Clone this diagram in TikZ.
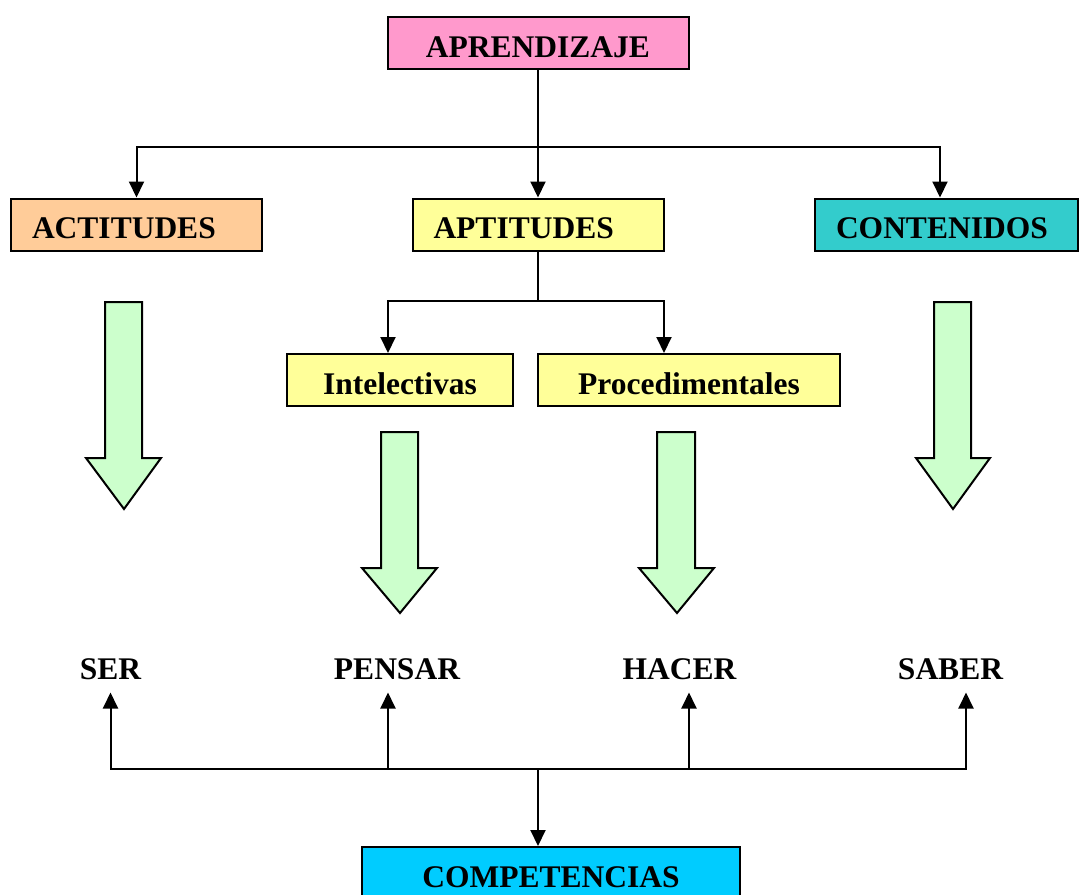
\documentclass[tikz,border=0pt]{standalone}
\usepackage{fontspec}
\setmainfont{Liberation Serif}
\usetikzlibrary{arrows.meta,calc}
\definecolor{cpink}{HTML}{FF99CC}
\definecolor{corange}{HTML}{FFCC99}
\definecolor{cyellow}{HTML}{FFFF99}
\definecolor{cteal}{HTML}{33CCCC}
\definecolor{ccyan}{HTML}{00CCFF}
\definecolor{cgreen}{HTML}{CCFFCC}
\tikzset{
  box/.style={draw=black, line width=2pt, minimum height=52pt, inner ysep=0pt,
    text height=28pt, text depth=0pt,
    font=\fontsize{31.5}{36}\selectfont\bfseries},
  lbox/.style={box, inner xsep=21pt, align=left},
  lab/.style={anchor=base, inner sep=0pt, font=\fontsize{31.5}{36}\selectfont\bfseries},
  arr/.style={line width=2pt, -{Triangle[width=15pt,length=16pt]}},
  line/.style={line width=2pt},
  bigarrow/.style={draw=black, line width=2pt, fill=cgreen, line join=miter}
}
\begin{document}
\begin{tikzpicture}[x=1pt,y=-1pt]
\useasboundingbox (0,0) rectangle (1080,895);
% boxes
\node[box, fill=cpink, minimum width=301pt] (apr) at (538,43) {APRENDIZAJE};
\node[lbox, fill=corange, text width=209pt] (act) at (136.5,224.5) {ACTITUDES};
\node[lbox, fill=cyellow, text width=209pt] (apt) at (538,224.5) {APTITUDES};
\node[lbox, fill=cteal, text width=221pt] (cont) at (946.5,224.5) {CONTENIDOS};
\node[box, fill=cyellow, minimum width=226pt] (int) at (400,380) {Intelectivas};
\node[box, fill=cyellow, minimum width=302pt] (proc) at (689,380) {Procedimentales};
\node[box, fill=ccyan, minimum width=378pt, minimum height=56pt, text height=24pt] (comp) at (551,875) {COMPETENCIAS};
% labels
\node[lab] (ser) at (110.5,679) {SER};
\node[lab] (pensar) at (397,679) {PENSAR};
\node[lab] (hacer) at (679.5,679) {HACER};
\node[lab] (saber) at (950.5,679) {SABER};
% connectors top
\coordinate (hub1) at (538,147);
\draw[line] (apr.south) -- (hub1);
\draw[arr] (hub1) -| (act.north);
\draw[arr] (hub1) -- (apt.north);
\draw[arr] (hub1) -| ([xshift=-6.5pt]cont.north);
\coordinate (hub2) at (538,301);
\draw[line] (apt.south) -- (hub2);
\draw[arr] (hub2) -| ([xshift=-12pt]int.north);
\draw[arr] (hub2) -| ([xshift=-25pt]proc.north);
% connectors bottom
\coordinate (bus) at (538,769);
\draw[arr] (bus) -| ([yshift=-13pt]ser.south);
\draw[arr] (bus) -| ([xshift=-9pt,yshift=-13pt]pensar.south);
\draw[arr] (bus) -| ([xshift=9.5pt,yshift=-13pt]hacer.south);
\draw[arr] (bus) -| ([xshift=15.5pt,yshift=-13pt]saber.south);
\draw[arr] (bus) -- ([xshift=-13pt]comp.north);
% big green arrows
\draw[bigarrow] (105,302) -- (142,302) -- (142,458) -- (161,458) -- (124,509) -- (86,458) -- (105,458) -- cycle;
\draw[bigarrow] (934,302) -- (971,302) -- (971,458) -- (990,458) -- (953,509) -- (916,458) -- (934,458) -- cycle;
\draw[bigarrow] (381,432) -- (418,432) -- (418,568) -- (437,568) -- (400,613) -- (362,568) -- (381,568) -- cycle;
\draw[bigarrow] (657,432) -- (695,432) -- (695,568) -- (714,568) -- (677,613) -- (639,568) -- (657,568) -- cycle;
\end{tikzpicture}
\end{document}
